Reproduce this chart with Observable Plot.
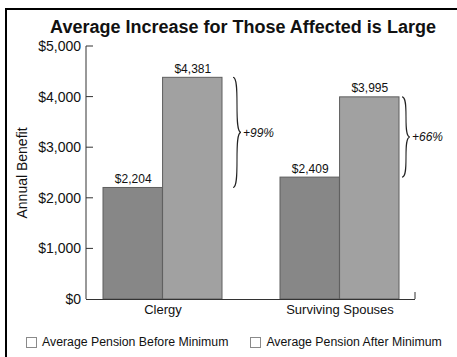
<!DOCTYPE html>
<html>
<head>
<meta charset="utf-8">
<script src="https://cdn.jsdelivr.net/npm/d3@7"></script>
<script src="https://cdn.jsdelivr.net/npm/@observablehq/plot@0.6"></script>
<style>
  html, body { margin: 0; padding: 0; background: #fff; overflow: hidden; }
  #page { position: relative; width: 457px; height: 357px; overflow: hidden;
          font-family: "Liberation Sans", Arial, Helvetica, sans-serif; color: #111; }
  #frame { position: absolute; left: 5px; top: 8px; width: 480px; height: 380px;
           border-left: 2px solid #000; border-top: 2px solid #000; box-sizing: border-box; }
  #title { position: absolute; left: 0; top: 18px; width: 486px; text-align: center;
           font-size: 18px; line-height: 18px; font-weight: bold; white-space: nowrap; }
  #chart { position: absolute; left: 0; top: 30px; width: 457px; }
  #legend { position: absolute; left: 26px; top: 336px; display: flex; gap: 22px;
            font-size: 12.3px; line-height: 12px; white-space: nowrap; }
  .item { display: flex; align-items: center; }
  .swatch { width: 11px; height: 11px; box-sizing: border-box; border: 1px solid #8a8a8a;
            margin-right: 5px; background: #fff; }
</style>
</head>
<body>
<div id="page">
<div id="frame"></div>
<div id="chart"></div>
<div id="title"></div>
<div id="legend"></div>
</div>
<script>
// ---- data ----
const chartTitle = "Average Increase for Those Affected is Large";
const yLabel = "Annual Benefit";
const categories = ["Clergy", "Surviving Spouses"];
const beforeValues = [2204, 2409];
const afterValues = [4381, 3995];
const increaseLabels = ["+99%", "+66%"];
const seriesLabels = ["Average Pension Before Minimum", "Average Pension After Minimum"];
const yTicks = [0, 1000, 2000, 3000, 4000, 5000];

// ---- build ----
const rows = categories.map((c, i) => ({category: c, before: beforeValues[i], after: afterValues[i], inc: increaseLabels[i]}));
const fmt = d => "$" + d3.format(",")(d);

document.getElementById("title").textContent = chartTitle;
const legend = document.getElementById("legend");
seriesLabels.forEach(s => {
  const it = document.createElement("div"); it.className = "item";
  const sw = document.createElement("div"); sw.className = "swatch";
  const tx = document.createElement("span"); tx.textContent = s;
  it.append(sw, tx); legend.append(it);
});

const xOpts = {type: "band", domain: categories, range: [86, 415], paddingInner: 0.33, paddingOuter: 0.09};
const bw = Plot.scale({x: xOpts}).bandwidth;
const braceGap = [11, 3];

// axis line, inward ticks, braces and their labels, drawn with the plot's scales
function overlay(index, scales, values, dims) {
  const {x, y} = scales;
  const g = d3.create("svg:g");
  const x0 = dims.marginLeft, x1 = dims.width - dims.marginRight;
  const y0 = y(0), yTop = y(d3.max(yTicks));
  const lines = g.append("g").attr("stroke", "#333").attr("stroke-width", 1).attr("fill", "none");
  lines.append("line").attr("x1", x0).attr("x2", x0).attr("y1", y0).attr("y2", yTop);
  yTicks.slice(1).forEach(t => lines.append("line").attr("x1", x0).attr("x2", x0 + 7).attr("y1", y(t)).attr("y2", y(t)));
  lines.append("line").attr("x1", x1).attr("x2", x1).attr("y1", y0).attr("y2", y0 - 7);
  const bwid = x.bandwidth();
  rows.forEach((r, i) => {
    const xl = x(r.category) + bwid + braceGap[i];
    const ya = y(r.after), yb = y(r.before), ym = (ya + yb) / 2, w = 8;
    g.append("path")
      .attr("d", `M${xl},${ya} C${xl + w},${ya} ${xl},${ym} ${xl + w},${ym} C${xl},${ym} ${xl + w},${yb} ${xl},${yb}`)
      .attr("fill", "none").attr("stroke", "#222").attr("stroke-width", 1.1);
    g.append("text").attr("x", xl + w + 2).attr("y", ym).attr("dy", "0.35em")
      .attr("text-anchor", "start").attr("font-size", 12).attr("font-style", "italic")
      .attr("fill", "#111").text(r.inc);
  });
  return g.node();
}

const chart = Plot.plot({
  width: 457, height: 295,
  marginLeft: 86, marginRight: 42, marginTop: 16, marginBottom: 26,
  style: {fontFamily: '"Liberation Sans", Arial, Helvetica, sans-serif', fontSize: "12px", background: "transparent", overflow: "visible"},
  x: {...xOpts, axis: null},
  y: {domain: [0, 5000], axis: null},
  marks: [
    Plot.barY(rows, {x: "category", y: "before", fill: "#878787", stroke: "#5e5e5e", strokeWidth: 1, insetRight: bw / 2}),
    Plot.barY(rows, {x: "category", y: "after", fill: "#a1a1a1", stroke: "#5e5e5e", strokeWidth: 1, insetLeft: bw / 2}),
    Plot.text(rows, {x: "category", y: "before", text: d => fmt(d.before), dx: -bw / 4, dy: -5, lineAnchor: "bottom", fontSize: 12, fill: "#111"}),
    Plot.text(rows, {x: "category", y: "after", text: d => fmt(d.after), dx: bw / 4, dy: -5, lineAnchor: "bottom", fontSize: 12, fill: "#111"}),
    Plot.text(yTicks, {y: d => d, text: d => fmt(d), frameAnchor: "left", textAnchor: "end", dx: -5.5, fontSize: 14, fill: "#111"}),
    Plot.text(categories, {x: d => d, text: d => d, frameAnchor: "bottom", lineAnchor: "top", dy: 5, fontSize: 13, fill: "#111"}),
    Plot.text([yLabel], {text: d => d, frameAnchor: "left", textAnchor: "middle", rotate: -90, dx: -64, fontSize: 14, fill: "#111"}),
    Plot.ruleY([0], {stroke: "#333"}),
    overlay
  ]
});
document.getElementById("chart").append(chart);
</script>
</body>
</html>
